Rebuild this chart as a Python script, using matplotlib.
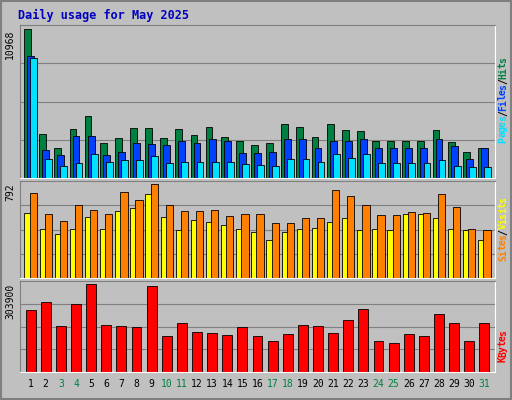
import matplotlib.pyplot as plt
import numpy as np

days = list(range(1, 32))
weekend = [3, 4, 10, 11, 17, 18, 24, 25, 31]
hits = [10968, 3230, 2180, 3600, 4580, 2550, 2930, 3680, 3680, 2930, 3600, 3150, 3760, 3000, 2700,
        2400, 2550, 3980, 3760, 3000, 3980, 3530, 3460, 2700, 2700, 2700, 2700, 3530, 2630, 1950, 2250]
files = [9000, 2100, 1730, 3080, 3080, 1730, 1950, 2550, 2480, 2400, 2700, 2550, 2850, 2700, 1880,
         1880, 1950, 2850, 2850, 2250, 2700, 2700, 2850, 2180, 2180, 2180, 2180, 2850, 2330, 1430, 2250]
pages = [8860, 1430, 900, 1100, 1800, 1200, 1300, 1300, 1600, 1100, 1200, 1200, 1200, 1200, 1050,
         950, 900, 1400, 1400, 1200, 1800, 1500, 1800, 1100, 1100, 1100, 1100, 1300, 900, 800, 800]
sites = [550, 409, 374, 409, 514, 409, 565, 592, 705, 514, 400, 487, 470, 444, 409,
         383, 322, 383, 409, 418, 470, 505, 400, 409, 400, 540, 540, 505, 409, 400, 322]
visits = [713, 540, 480, 610, 575, 540, 720, 660, 792, 618, 565, 565, 575, 520, 540,
          540, 460, 460, 505, 505, 740, 688, 610, 530, 530, 557, 548, 705, 600, 409, 400]
kbytes = [212000, 240000, 159000, 233000, 303900, 162000, 159000, 155000, 297000, 124000, 169000,
          138000, 134000, 127000, 155000, 124000, 106000, 131000, 162000, 159000, 134000, 180000,
          215000, 106000, 99000, 131000, 124000, 201000, 169000, 106000, 169000]

BG = "#C0C0C0"
fig = plt.figure(figsize=(5.12, 4.0), dpi=100, facecolor=BG)
W, H = 512, 400
x = np.array(days)

def panel(top, bottom, ymax):
    ax = fig.add_axes([20 / W, 1 - bottom / H, 475 / W, (bottom - top) / H])
    ax.set_facecolor(BG)
    ax.set_xlim(0.3, 31.7)
    ax.set_ylim(0, ymax * 1.03)
    ax.set_xticks([])
    ax.set_yticks([])
    for s in ["top", "left"]:
        ax.spines[s].set_color("#808080")
    for s in ["bottom", "right"]:
        ax.spines[s].set_color("white")
    for f in (0.25, 0.5, 0.75):
        ax.axhline(ymax * 1.03 * f, color="#808080", lw=0.8, zorder=0)
    ax.text(-0.01, 1 / 1.03, str(ymax), transform=ax.transAxes, rotation=90,
            ha="right", va="top", fontsize=7, family="DejaVu Sans Mono")
    return ax

# top panel
ax1 = panel(25, 178, 10968)
ax1.bar(x - 0.2, hits, width=0.45, color="#008040", edgecolor="black", lw=0.6, zorder=2)
ax1.bar(x, files, width=0.45, color="#0040FF", edgecolor="black", lw=0.6, zorder=3)
ax1.bar(x + 0.2, pages, width=0.45, color="#00E0FF", edgecolor="black", lw=0.6, zorder=4)

# middle panel
ax2 = panel(181, 278, 792)
ax2.bar(x - 0.17, sites, width=0.48, color="#FFFF00", edgecolor="black", lw=0.6, zorder=2)
ax2.bar(x + 0.17, visits, width=0.48, color="#FF8000", edgecolor="black", lw=0.6, zorder=3)

# bottom panel
ax3 = panel(281, 372, 303900)
ax3.bar(x, kbytes, width=0.65, color="#FF0000", edgecolor="black", lw=0.6, zorder=2)
for d in days:
    ax3.text(d, -0.08, str(d), transform=ax3.get_xaxis_transform(), ha="center", va="top",
             fontsize=7, family="DejaVu Sans Mono",
             color="#008040" if d in weekend else "black")

fig.text(18 / W, 1 - 15 / H, "Daily usage for May 2025", color="#0000C0", fontsize=8.5,
         fontweight="bold", family="DejaVu Sans Mono", va="center")

def side_label(parts, ycenter):
    # parts listed top to bottom, text reads upward
    total = sum(len(p) for p, _ in parts)
    step = 5.3
    y = ycenter - total * step / 2
    for txt, col in parts:
        for ch in txt[::-1]:
            fig.text(503 / W, 1 - (y + step / 2) / H, ch, rotation=90, color=col, fontsize=7,
                     fontweight="bold", family="DejaVu Sans Mono", ha="center", va="center")
            y += step

side_label([("Hits", "#008040"), ("/", "#000000"), ("Files", "#0040FF"),
            ("/", "#000000"), ("Pages", "#00E0FF")], 100)
side_label([("Visits", "#FFFF00"), ("/", "#000000"), ("Sites", "#FF8000")], 229)
side_label([("KBytes", "#FF0000")], 346)

fig.patches.append(plt.Rectangle((0.002, 0.002), 0.996, 0.996, transform=fig.transFigure,
                                 fill=False, edgecolor="#808080", lw=1.5))
fig.savefig("out.png", dpi=100, facecolor=BG)
